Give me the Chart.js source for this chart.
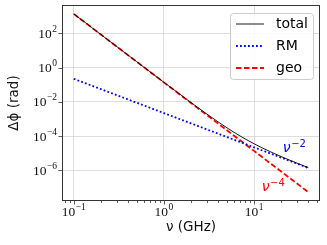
<!DOCTYPE html>
<html>
<head>
<meta charset="utf-8">
<script src="https://cdn.jsdelivr.net/npm/chart.js@4/dist/chart.umd.min.js"></script>
<style>
  html, body { margin: 0; padding: 0; background: #fff; }
</style>
</head>
<body>
<canvas id="phase-chart" width="327" height="245"></canvas>
<script>
// frequency in GHz, phase in rad
const freqs = [0.1, 0.2, 0.5, 1, 2, 3, 4, 5, 6, 7, 8, 10, 12, 15, 20, 25, 30, 40];
const totalPhase = [1360.2, 85.06, 2.185, 0.1382, 9.05e-3, 1.923e-3, 6.69e-4, 3.056e-4, 1.66e-4,
    1.015e-4, 6.76e-5, 3.56e-5, 2.18e-5, 1.247e-5, 6.35e-6, 3.87e-6, 2.612e-6, 1.428e-6];
const rmPhase = [0.22, 0.055, 8.8e-3, 2.2e-3, 5.5e-4, 2.44e-4, 1.375e-4, 8.8e-5, 6.11e-5,
    4.49e-5, 3.44e-5, 2.2e-5, 1.528e-5, 9.78e-6, 5.5e-6, 3.52e-6, 2.44e-6, 1.375e-6];
const geoPhase = [1360, 85, 2.176, 0.136, 8.5e-3, 1.679e-3, 5.31e-4, 2.176e-4, 1.049e-4,
    5.66e-5, 3.32e-5, 1.36e-5, 6.56e-6, 2.687e-6, 8.5e-7, 3.48e-7, 1.679e-7, 5.31e-8];
const seriesNames = ['total', 'RM', 'geo'];

const xTicks = [0.08, 0.09, 0.1, 0.2, 0.3, 0.4, 0.5, 0.6, 0.7, 0.8, 0.9,
    1, 2, 3, 4, 5, 6, 7, 8, 9, 10, 20, 30, 40, 50];
const yTicks = [1e-6, 1e-4, 1e-2, 1, 1e2];
const slopeNotes = ['\u22122', '\u22124'];

const FONT = '"DejaVu Sans", sans-serif';
const SERIF = '"Liberation Serif", "DejaVu Serif", serif';
const FRAME = '#333333';
const GRID = '#d4d4d4';

// where the slope notes sit, in data units
const noteSpots = [{ x: 20.9, y: 1.12e-5, color: '#0000ff' }, { x: 12.2, y: 6.15e-8, color: '#ff0000' }];

function isDecade(v) {
    const l = Math.log10(v);
    return Math.abs(l - Math.round(l)) < 1e-6;
}

function exponentOf(v) {
    return String(Math.round(Math.log10(v))).replace('-', '\u2212');
}

const toPoints = ys => freqs.map((f, i) => ({ x: f, y: ys[i] }));

// "10" plus a raised exponent, like the mathtext tick labels
function drawPower(ctx, v, x, baseline, align) {
    const exp = exponentOf(v);
    ctx.font = '13.5px ' + SERIF;
    const wBase = ctx.measureText('10').width;
    ctx.font = '9.5px ' + SERIF;
    const wExp = ctx.measureText(exp).width;
    const total = wBase + 0.5 + wExp;
    let left = x;
    if (align === 'center') left = x - total / 2;
    if (align === 'right') left = x - total;
    ctx.textAlign = 'left';
    ctx.textBaseline = 'alphabetic';
    ctx.font = '13.5px ' + SERIF;
    ctx.fillText('10', left, baseline);
    ctx.font = '9.5px ' + SERIF;
    ctx.fillText(exp, left + wBase + 0.5, baseline - 6);
}

const decor = {
    id: 'decor',
    afterDraw(chart) {
        const { ctx, chartArea: a, scales } = chart;
        ctx.save();

        // tick marks
        ctx.strokeStyle = FRAME;
        ctx.lineWidth = 0.8;
        ctx.beginPath();
        xTicks.forEach(v => {
            const px = Math.round(scales.x.getPixelForValue(v)) + 0.5;
            const len = isDecade(v) ? 3.5 : 2;
            ctx.moveTo(px, a.bottom);
            ctx.lineTo(px, a.bottom + len);
        });
        yTicks.forEach(v => {
            const py = Math.round(scales.y.getPixelForValue(v)) + 0.5;
            ctx.moveTo(a.left, py);
            ctx.lineTo(a.left - 3.5, py);
        });
        ctx.stroke();

        // tick labels
        ctx.fillStyle = '#111';
        xTicks.filter(isDecade).forEach(v => {
            drawPower(ctx, v, scales.x.getPixelForValue(v), a.bottom + 14.5, 'center');
        });
        yTicks.forEach(v => {
            drawPower(ctx, v, a.left - 5, scales.y.getPixelForValue(v) + 4.5, 'right');
        });

        // frame
        ctx.strokeStyle = FRAME;
        ctx.lineWidth = 1;
        ctx.strokeRect(a.left + 0.5, a.top + 0.5, a.right - a.left - 1, a.bottom - a.top - 1);

        // legend
        ctx.fillStyle = 'rgba(255,255,255,0.85)';
        ctx.strokeStyle = '#cccccc';
        ctx.lineWidth = 1;
        ctx.beginPath();
        ctx.roundRect(230.5, 13.5, 83, 66, 3);
        ctx.fill();
        ctx.stroke();
        const rows = [24, 46, 68];
        chart.data.datasets.forEach((ds, i) => {
            ctx.strokeStyle = ds.borderColor;
            ctx.lineWidth = ds.borderWidth;
            ctx.setLineDash(ds.borderDash || []);
            ctx.beginPath();
            ctx.moveTo(236, rows[i]);
            ctx.lineTo(264, rows[i]);
            ctx.stroke();
            ctx.setLineDash([]);
            ctx.fillStyle = '#000';
            ctx.font = '14px ' + FONT;
            ctx.textBaseline = 'middle';
            ctx.textAlign = 'left';
            ctx.fillText(ds.label, 276, rows[i] + 0.5);
        });

        // slope notes
        noteSpots.forEach((n, i) => {
            const px = scales.x.getPixelForValue(n.x);
            const py = scales.y.getPixelForValue(n.y);
            ctx.fillStyle = n.color;
            ctx.textBaseline = 'alphabetic';
            ctx.font = 'italic 14px ' + FONT;
            ctx.fillText('\u03bd', px, py);
            const w = ctx.measureText('\u03bd').width;
            ctx.font = '10px ' + FONT;
            ctx.fillText(slopeNotes[i], px + w + 0.5, py - 5.5);
        });
        ctx.restore();
    }
};

new Chart(document.getElementById('phase-chart'), {
    type: 'line',
    data: {
        datasets: [
            {
                label: seriesNames[0],
                data: toPoints(totalPhase),
                borderColor: '#000000',
                borderWidth: 0.9,
                pointRadius: 0
            },
            {
                label: seriesNames[1],
                data: toPoints(rmPhase),
                borderColor: '#0000ff',
                borderWidth: 1.8,
                borderDash: [1.8, 2.2],
                pointRadius: 0
            },
            {
                label: seriesNames[2],
                data: toPoints(geoPhase),
                borderColor: '#ff0000',
                borderWidth: 1.8,
                borderDash: [5.5, 2.5],
                pointRadius: 0
            }
        ]
    },
    options: {
        responsive: false,
        animation: false,
        devicePixelRatio: 1,
        layout: { padding: { top: 5, right: 7, left: 0, bottom: 0 } },
        plugins: { legend: { display: false }, tooltip: { enabled: false } },
        scales: {
            x: {
                type: 'logarithmic',
                min: 0.0741,
                max: 53.97,
                afterBuildTicks: s => { s.ticks = xTicks.map(v => ({ value: v })); },
                afterFit: s => { s.height = 44; },
                border: { display: false },
                grid: {
                    drawTicks: false,
                    lineWidth: 0.8,
                    color: c => (c.tick && isDecade(c.tick.value)) ? GRID : 'rgba(0,0,0,0)'
                },
                ticks: { display: false, autoSkip: false },
                title: {
                    display: true,
                    text: '\u03bd (GHz)',
                    color: '#111',
                    font: { family: FONT, size: 13.5 },
                    padding: { top: 0, bottom: 9 }
                }
            },
            y: {
                type: 'logarithmic',
                min: 1.61e-8,
                max: 4498,
                afterBuildTicks: s => { s.ticks = yTicks.map(v => ({ value: v })); },
                afterFit: s => { s.width = 62; },
                border: { display: false },
                grid: { drawTicks: false, lineWidth: 0.8, color: GRID },
                ticks: { display: false },
                title: {
                    display: true,
                    text: '\u0394\u03d5 (rad)',
                    color: '#111',
                    font: { family: FONT, size: 13.5 },
                    padding: { top: 6, bottom: 0 }
                }
            }
        }
    },
    plugins: [decor]
});
</script>
</body>
</html>
